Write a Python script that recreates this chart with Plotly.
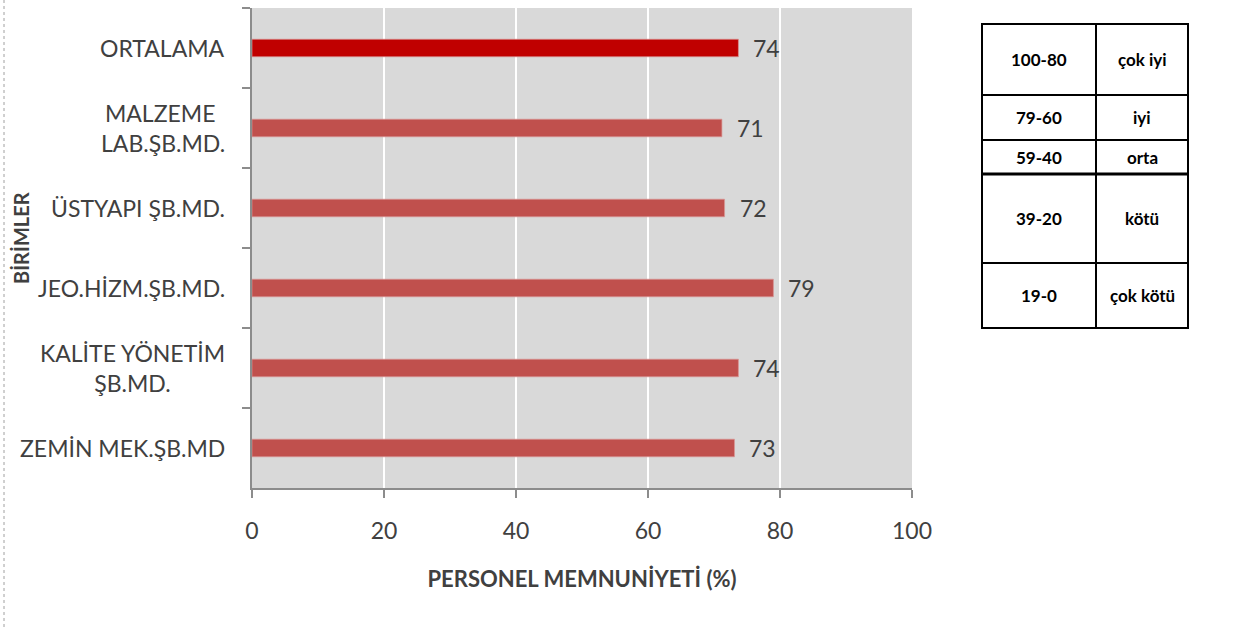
import plotly.graph_objects as go

# ---- data ----
categories = ["ORTALAMA", "MALZEME LAB.ŞB.MD.", "ÜSTYAPI ŞB.MD.",
              "JEO.HİZM.ŞB.MD.", "KALİTE YÖNETİM ŞB.MD.", "ZEMİN MEK.ŞB.MD"]
category_text = ["ORTALAMA", "MALZEME <br>LAB.ŞB.MD.", "ÜSTYAPI ŞB.MD.",
                 "JEO.HİZM.ŞB.MD.", "KALİTE YÖNETİM<br>ŞB.MD.", "ZEMİN MEK.ŞB.MD"]
values = [73.7, 71.2, 71.6, 79.0, 73.7, 73.1]
value_labels = ["74", "71", "72", "79", "74", "73"]
x_ticks = [0, 20, 40, 60, 80, 100]

table_ranges = ["100-80", "79-60", "59-40", "39-20", "19-0"]
table_grades = ["çok iyi", "iyi", "orta", "kötü", "çok kötü"]

# ---- layout constants (pixels) ----
W, H = 1234, 629
L, R, T, B = 252, 912, 8, 488
FONT = "Lato"
TXT = "#404040"

bar_colors = ["#C00000"] + ["#C0504D"] * (len(categories) - 1)


def px(x):
    return (x - L) / (R - L)


def py(y):
    return (B - y) / (B - T)


fig = go.Figure()
fig.add_trace(go.Bar(
    y=categories, x=values, orientation="h",
    marker=dict(color=bar_colors, line=dict(color="rgba(217,150,148,0.7)", width=1)),
    width=0.22, hoverinfo="x+y", showlegend=False,
))

annotations = []
# category labels (centered multi-line like the original)
for cat, txt in zip(categories, category_text):
    annotations.append(dict(
        x=0, xref="x", y=cat, yref="y", text=txt, showarrow=False,
        xanchor="right", yanchor="middle", align="center", xshift=-25,
        font=dict(family=FONT, size=23, color=TXT),
    ))
# value labels
for cat, v, lab in zip(categories, values, value_labels):
    annotations.append(dict(
        x=v, xref="x", y=cat, yref="y", text=lab, showarrow=False,
        xanchor="left", yanchor="middle", xshift=13,
        font=dict(family=FONT, size=23, color=TXT),
    ))
# y axis title
annotations.append(dict(
    x=px(21), xref="paper", y=py(238), yref="paper", text="<b>BİRİMLER</b>",
    textangle=-90, showarrow=False, xanchor="center", yanchor="middle",
    font=dict(family=FONT, size=20, color=TXT),
))

# ---- side table ----
tx0, tx1, tx2 = 982, 1096, 1188
row_edges = [24, 95, 140, 174, 263, 328]
shapes = []
shapes.append(dict(type="rect", xref="paper", yref="paper",
                   x0=px(tx0), x1=px(tx2), y0=py(row_edges[0]), y1=py(row_edges[-1]),
                   line=dict(color="black", width=2), layer="above"))
shapes.append(dict(type="line", xref="paper", yref="paper",
                   x0=px(tx1), x1=px(tx1), y0=py(row_edges[0]), y1=py(row_edges[-1]),
                   line=dict(color="black", width=2)))
for i, e in enumerate(row_edges[1:-1]):
    shapes.append(dict(type="line", xref="paper", yref="paper",
                       x0=px(tx0), x1=px(tx2), y0=py(e), y1=py(e),
                       line=dict(color="black", width=3 if i == 2 else 2)))
for i, (rg, gr) in enumerate(zip(table_ranges, table_grades)):
    yc = (row_edges[i] + row_edges[i + 1]) / 2
    annotations.append(dict(x=px((tx0 + tx1) / 2), y=py(yc), xref="paper", yref="paper",
                            xanchor="center", yanchor="middle",
                            text="<b>%s</b>" % rg, showarrow=False,
                            font=dict(family=FONT, size=17, color="black")))
    annotations.append(dict(x=px((tx1 + tx2) / 2), y=py(yc), xref="paper", yref="paper",
                            xanchor="center", yanchor="middle",
                            text="<b>%s</b>" % gr, showarrow=False,
                            font=dict(family=FONT, size=17, color="black")))

# dotted page border on the left
shapes.append(dict(type="line", xref="paper", yref="paper",
                   x0=px(4), x1=px(4), y0=py(0), y1=py(H),
                   line=dict(color="#A0A0A0", width=1, dash="dot")))

fig.update_layout(
    width=W, height=H,
    margin=dict(l=L, r=W - R, t=T, b=H - B, pad=0),
    paper_bgcolor="white", plot_bgcolor="#D9D9D9",
    annotations=annotations, shapes=shapes,
    xaxis=dict(
        range=[0, 100], tickvals=x_ticks, showgrid=True, gridcolor="white", gridwidth=1.5,
        zeroline=False, showline=True, linecolor="#8C8C8C", linewidth=1.5,
        ticks="outside", ticklen=8, tickcolor="#8C8C8C", tickwidth=1.5,
        ticklabelstandoff=14,
        tickfont=dict(family=FONT, size=23, color=TXT),
        title=dict(text="<b>PERSONEL MEMNUNİYETİ (%)</b>", standoff=28,
                   font=dict(family=FONT, size=22, color=TXT)),
        fixedrange=True,
    ),
    yaxis=dict(
        type="category", categoryorder="array", categoryarray=categories,
        autorange="reversed", showticklabels=False, showgrid=False, zeroline=False,
        showline=True, linecolor="#8C8C8C", linewidth=1.5,
        ticks="outside", ticklen=8, tickcolor="#8C8C8C", tickwidth=1.5,
        tickson="boundaries", fixedrange=True,
    ),
)

fig.write_html("out.html")
